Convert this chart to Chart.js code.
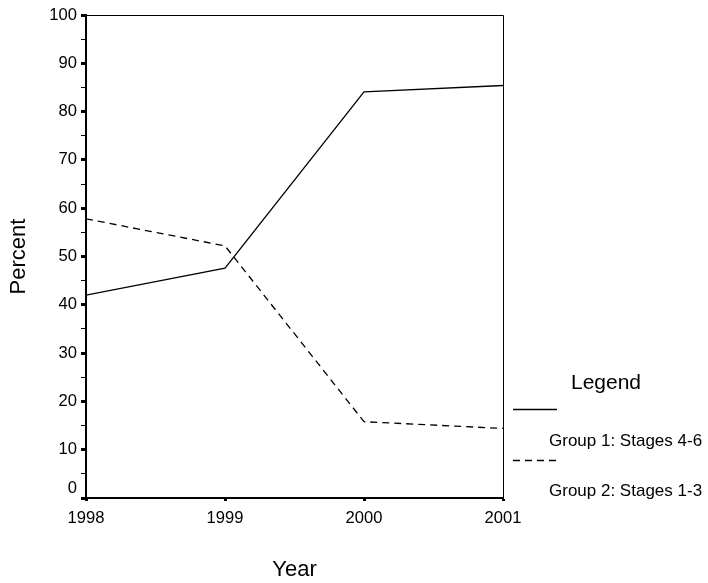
<!DOCTYPE html>
<html>
<head>
<meta charset="utf-8">
<script src="https://cdn.jsdelivr.net/npm/chart.js@4.4.1/dist/chart.umd.min.js"></script>
<style>
  html, body { margin: 0; padding: 0; background: #fff; }
  #wrap { width: 708px; height: 583px; }
</style>
</head>
<body>
<div id="wrap"><canvas id="line-chart" width="708" height="583"></canvas></div>
<script>
// values
var years = [1998, 1999, 2000, 2001];
var group1 = [42.0, 47.6, 84.1, 85.4];   // Stages 4-6, solid
var group2 = [57.8, 52.2, 15.8, 14.4];   // Stages 1-3, dashed
var seriesLabels = ['Group 1: Stages 4-6', 'Group 2: Stages 1-3'];
var legendTitle = 'Legend';

Chart.defaults.font.family = '"Liberation Sans", Arial, sans-serif';
Chart.defaults.color = '#000';

function toPoints(ys) {
    return years.map(function (x, i) { return {x: x, y: ys[i]}; });
}

// thin top/right frame lines plus the hand-placed legend block
var framePlugin = {
    id: 'frameAndLegend',
    afterDraw: function (chart) {
        var ctx = chart.ctx, a = chart.chartArea;
        ctx.save();
        ctx.strokeStyle = '#000';
        ctx.lineWidth = 1;
        ctx.beginPath();
        ctx.moveTo(a.left, a.top + 0.5);
        ctx.lineTo(a.right + 0.5, a.top + 0.5);
        ctx.lineTo(a.right + 0.5, a.bottom);
        ctx.stroke();

        var x0 = a.right + 10;
        ctx.fillStyle = '#000';
        ctx.textAlign = 'center';
        ctx.textBaseline = 'alphabetic';
        ctx.font = '21px "Liberation Sans", Arial, sans-serif';
        ctx.fillText(legendTitle, 606, 389);

        var rows = [{y: 409, ty: 445.5}, {y: 460, ty: 495.5}];
        ctx.font = '17px "Liberation Sans", Arial, sans-serif';
        ctx.textAlign = 'left';
        chart.data.datasets.forEach(function (ds, i) {
            ctx.beginPath();
            ctx.lineWidth = 1.3;
            ctx.setLineDash(ds.borderDash || []);
            ctx.moveTo(x0, rows[i].y + 0.5);
            ctx.lineTo(x0 + 44, rows[i].y + 0.5);
            ctx.stroke();
            ctx.setLineDash([]);
            ctx.fillText(ds.label, 549, rows[i].ty);
        });
        ctx.restore();
    }
};

var chart = new Chart(document.getElementById('line-chart'), {
    type: 'line',
    data: {
        datasets: [
            {
                label: seriesLabels[0],
                data: toPoints(group1),
                borderColor: '#000',
                borderWidth: 1.3,
                pointRadius: 0,
                tension: 0
            },
            {
                label: seriesLabels[1],
                data: toPoints(group2),
                borderColor: '#000',
                borderWidth: 1.3,
                borderDash: [7, 5],
                pointRadius: 0,
                tension: 0
            }
        ]
    },
    options: {
        responsive: false,
        animation: false,
        layout: {padding: {left: 0, top: 15, right: 205, bottom: 0}},
        plugins: {legend: {display: false}, tooltip: {enabled: false}},
        scales: {
            x: {
                type: 'linear', min: 1998, max: 2001,
                afterFit: function (s) { s.height = 85; },
                border: {color: '#000', width: 2},
                grid: {drawOnChartArea: false, tickLength: 3, tickWidth: 3, tickColor: '#000'},
                ticks: {stepSize: 1, padding: 7, font: {size: 16.6}, maxRotation: 0,
                    callback: function (v) { return String(v); }},
                title: {display: true, text: 'Year', font: {size: 22}, padding: {top: 0, bottom: 0}}
            },
            y: {
                min: 0, max: 100,
                afterFit: function (s) { s.width = 86; },
                border: {color: '#000', width: 2},
                grid: {
                    drawOnChartArea: false, tickLength: 5, tickColor: '#000',
                    tickWidth: function (c) { return c.tick && c.tick.value % 10 === 0 ? 3 : 1; }
                },
                ticks: {
                    stepSize: 5, autoSkip: false, padding: 4, font: {size: 16.6},
                    callback: function (v) {
                        if (v % 10 !== 0) return '';
                        return v === 0 ? ['0', ''] : String(v);
                    }
                },
                title: {display: true, text: 'Percent', font: {size: 22}, padding: {top: 6, bottom: 0}}
            }
        }
    },
    plugins: [framePlugin]
});
</script>
</body>
</html>
